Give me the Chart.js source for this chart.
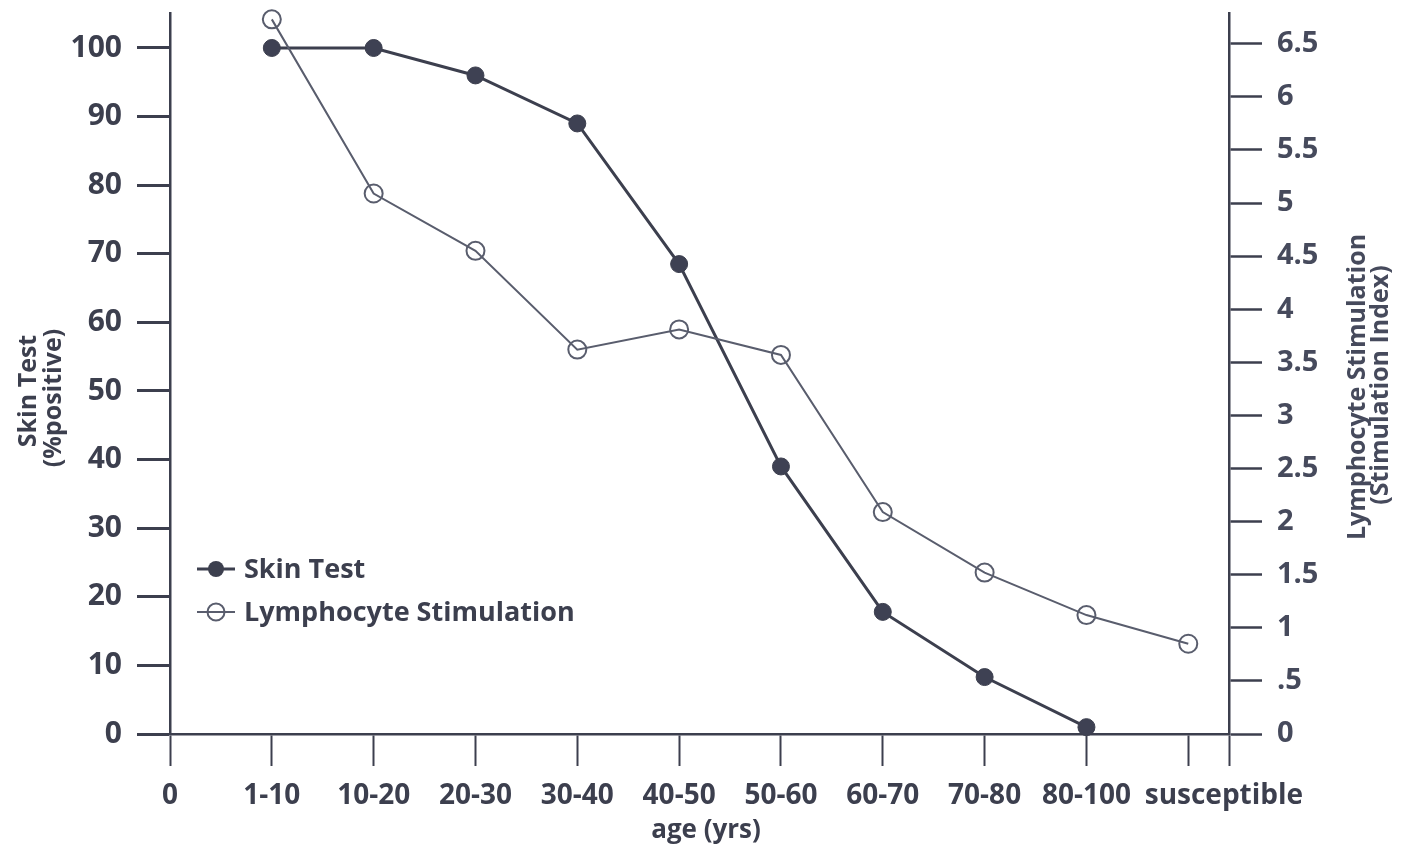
<!DOCTYPE html>
<html>
<head>
<meta charset="utf-8">
<script src="https://cdn.jsdelivr.net/npm/chart.js@4/dist/chart.umd.min.js"></script>
<style>
  html, body { margin: 0; padding: 0; background: #fff; }
  #wrap { width: 1401px; height: 846px; }
</style>
</head>
<body>
<div id="wrap"><canvas id="c" width="1401" height="846"></canvas></div>
<script>
// age groups along the bottom, "0" is the origin tick
const categories = ["0", "1-10", "10-20", "20-30", "30-40", "40-50", "50-60", "60-70", "70-80", "80-100", "susceptible"];
// skin test, % positive (left axis)
const skinTest = [null, 100, 100, 96, 89, 68.5, 39, 17.8, 8.3, 1, null];
// lymphocyte stimulation index (right axis)
const lymphStim = [null, 6.73, 5.09, 4.55, 3.62, 3.81, 3.57, 2.09, 1.52, 1.12, 0.85];
// tick values
const leftTicks = [0, 5, 10, 15, 20, 25, 30, 35, 40, 45, 50, 55, 60, 65, 70, 75, 80, 85, 90, 95, 100];
const rightTicks = [0, 0.5, 1, 1.5, 2, 2.5, 3, 3.5, 4, 4.5, 5, 5.5, 6, 6.5];

const ink = "#3c3f4e";
const light = "#595d6d";
const FONT = "'Open Sans', 'DejaVu Sans', sans-serif";
const X_MAX = 10.4;      // right axis sits a bit past the last group
const LAST_LABEL = 10.35; // "susceptible" is printed slightly right of its tick

function toPoints(arr) {
    const out = [];
    arr.forEach((v, i) => { if (v !== null) out.push({ x: i, y: v }); });
    return out;
}

function fixSize(prop, size) {
    return (scale) => {
        scale[prop] = size;
        scale.paddingTop = 0;
        scale.paddingBottom = 0;
        scale.paddingLeft = 0;
        scale.paddingRight = 0;
    };
}

// axis titles and the little legend, drawn as text on the canvas
const extras = {
    id: "extras",
    afterDraw(chart) {
        const ctx = chart.ctx;
        ctx.save();
        ctx.fillStyle = ink;
        ctx.textAlign = "center";
        ctx.textBaseline = "middle";

        ctx.font = "700 26px " + FONT;
        ctx.fillText("age (yrs)", 706, 831);

        ctx.font = "700 25px " + FONT;
        ctx.save();
        ctx.translate(29, 391);
        ctx.rotate(-Math.PI / 2);
        ctx.fillText("Skin Test", 0, 0);
        ctx.restore();
        ctx.save();
        ctx.translate(54, 398);
        ctx.rotate(-Math.PI / 2);
        ctx.fillText("(%positive)", 0, 0);
        ctx.restore();

        ctx.fillStyle = "#464a5c";
        ctx.save();
        ctx.translate(1358, 387);
        ctx.rotate(-Math.PI / 2);
        ctx.fillText("Lymphocyte Stimulation", 0, 0);
        ctx.restore();
        ctx.save();
        ctx.translate(1381, 385);
        ctx.rotate(-Math.PI / 2);
        ctx.fillText("(Stimulation Index)", 0, 0);
        ctx.restore();

        // legend
        ctx.strokeStyle = ink;
        ctx.lineWidth = 3;
        ctx.beginPath();
        ctx.moveTo(197, 569);
        ctx.lineTo(235, 569);
        ctx.stroke();
        ctx.fillStyle = ink;
        ctx.beginPath();
        ctx.arc(216, 569, 8, 0, Math.PI * 2);
        ctx.fill();

        ctx.strokeStyle = light;
        ctx.lineWidth = 2;
        ctx.beginPath();
        ctx.moveTo(197, 612);
        ctx.lineTo(235, 612);
        ctx.stroke();
        ctx.beginPath();
        ctx.arc(216, 612, 8.5, 0, Math.PI * 2);
        ctx.stroke();

        ctx.fillStyle = ink;
        ctx.textAlign = "left";
        ctx.textBaseline = "alphabetic";
        ctx.font = "700 27px " + FONT;
        ctx.fillText("Skin Test", 244, 578);
        ctx.fillText("Lymphocyte Stimulation", 244, 621);
        ctx.restore();
    }
};

const axisGrid = (len, w) => ({
    drawOnChartArea: false,
    drawTicks: true,
    tickLength: len,
    tickWidth: w,
    tickColor: ink
});
const axisBorder = { display: true, color: ink, width: 2.5 };

new Chart(document.getElementById("c"), {
    type: "line",
    data: {
        datasets: [
            {
                label: "Lymphocyte Stimulation",
                data: toPoints(lymphStim),
                yAxisID: "y1",
                borderColor: light,
                borderWidth: 2,
                pointRadius: 9,
                pointBorderWidth: 2,
                pointBorderColor: light,
                pointBackgroundColor: "rgba(0,0,0,0)",
                tension: 0,
                clip: false
            },
            {
                label: "Skin Test",
                data: toPoints(skinTest),
                yAxisID: "y",
                borderColor: ink,
                borderWidth: 3,
                pointRadius: 8.5,
                pointBorderWidth: 1,
                pointBorderColor: ink,
                pointBackgroundColor: "#3e4153",
                tension: 0,
                clip: false
            }
        ]
    },
    options: {
        responsive: false,
        animation: false,
        layout: { padding: { top: 13, left: 0, right: 0, bottom: 0 } },
        plugins: { legend: { display: false }, tooltip: { enabled: false } },
        scales: {
            x: {
                type: "linear",
                min: 0,
                max: X_MAX,
                afterBuildTicks: (scale) => {
                    const t = categories.map((c, i) => ({ value: i }));
                    t.push({ value: LAST_LABEL }, { value: X_MAX });
                    scale.ticks = t;
                },
                afterFit: fixSize("height", 112),
                grid: {
                    drawOnChartArea: false,
                    drawTicks: true,
                    tickLength: 32,
                    tickWidth: 2,
                    tickColor: (c) => c.tick && c.tick.value === LAST_LABEL ? "rgba(0,0,0,0)" : ink
                },
                border: axisBorder,
                ticks: {
                    autoSkip: false,
                    maxRotation: 0,
                    padding: 13,
                    color: ink,
                    font: { family: FONT, size: 28, weight: "700" },
                    callback: (v) => {
                        if (v === LAST_LABEL) return categories[categories.length - 1];
                        if (Number.isInteger(v) && v < categories.length - 1) return categories[v];
                        return "";
                    }
                }
            },
            y: {
                position: "left",
                min: 0,
                max: 105.1,
                afterBuildTicks: (scale) => { scale.ticks = leftTicks.map(v => ({ value: v })); },
                afterFit: fixSize("width", 170),
                grid: axisGrid(33, 3),
                border: axisBorder,
                ticks: {
                    padding: 15,
                    color: ink,
                    font: { family: FONT, size: 30, weight: "700" },
                    callback: (v) => v % 10 === 0 ? String(v) : ""
                }
            },
            y1: {
                position: "right",
                min: 0,
                max: 6.79,
                afterBuildTicks: (scale) => { scale.ticks = rightTicks.map(v => ({ value: v })); },
                afterFit: fixSize("width", 172),
                grid: axisGrid(33, 2.5),
                border: axisBorder,
                ticks: {
                    padding: 15,
                    color: "#464a5c",
                    font: { family: FONT, size: 29, weight: "700" },
                    callback: (v) => v === 0.5 ? ".5" : String(v)
                }
            }
        }
    },
    plugins: [extras]
});
</script>
</body>
</html>
